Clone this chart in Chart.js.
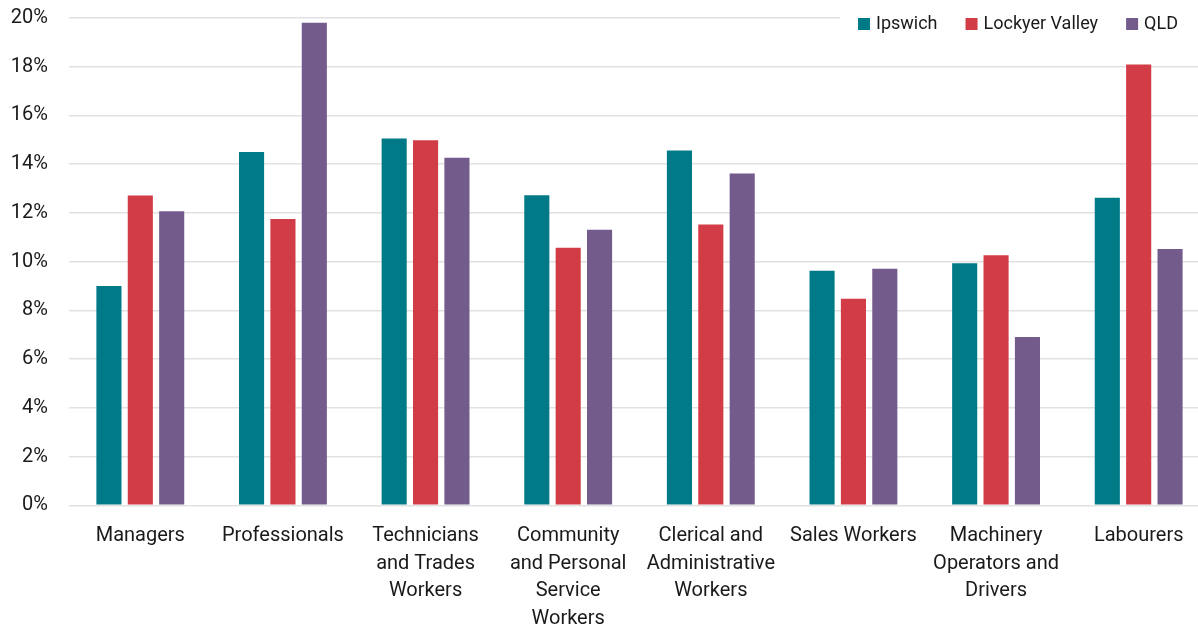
<!DOCTYPE html>
<html>
<head>
<meta charset="utf-8">
<script src="https://cdn.jsdelivr.net/npm/chart.js@4/dist/chart.umd.min.js"></script>
<style>
    html, body { margin: 0; padding: 0; background: #fff; overflow: hidden; }
    #wrap { width: 1210px; height: 642px; position: relative; margin-top: -15px; }
</style>
</head>
<body>
<div id="wrap"><canvas id="chart"></canvas></div>
<script>
const categories = [
    ["Managers"],
    ["Professionals"],
    ["Technicians", "and Trades", "Workers"],
    ["Community", "and Personal", "Service", "Workers"],
    ["Clerical and", "Administrative", "Workers"],
    ["Sales Workers"],
    ["Machinery", "Operators and", "Drivers"],
    ["Labourers"]
];
const seriesNames = ["Ipswich", "Lockyer Valley", "QLD"];
const ipswich = [9.0, 14.5, 15.05, 12.73, 14.56, 9.63, 9.93, 12.62];
const lockyer = [12.72, 11.75, 14.98, 10.57, 11.52, 8.48, 10.26, 18.09];
const qld = [12.07, 19.8, 14.26, 11.31, 13.62, 9.71, 6.91, 10.52];
const yTicks = [0, 2, 4, 6, 8, 10, 12, 14, 16, 18, 20];

const COLORS = ['#007a87', '#d13c47', '#735b8c'];
const FONT = 'Roboto, "DejaVu Sans", sans-serif';
const TEXT = '#1a1a1a';

// legend drawn over the top gridline with a white backing, like the original
const topLegend = {
    id: 'topLegend',
    afterDraw(chart) {
        const ctx = chart.ctx;
        const top = chart.chartArea.top;
        ctx.save();
        ctx.fillStyle = '#fff';
        ctx.fillRect(840, top - 14, 370, 30);
        ctx.font = '18px ' + FONT;
        ctx.textBaseline = 'middle';
        let x = 858;
        const y = top + 6;
        chart.data.datasets.forEach((ds, i) => {
            ctx.fillStyle = ds.backgroundColor;
            ctx.fillRect(x, y - 6, 12, 12);
            ctx.fillStyle = TEXT;
            ctx.fillText(ds.label, x + 18, y);
            x += 18 + ctx.measureText(ds.label).width + 28;
        });
        ctx.restore();
    }
};

const values = [ipswich, lockyer, qld];

new Chart(document.getElementById('chart'), {
    type: 'bar',
    data: {
        labels: categories,
        datasets: seriesNames.map((name, i) => ({
            label: name,
            data: values[i],
            backgroundColor: COLORS[i],
            categoryPercentage: 0.66,
            barPercentage: 0.8
        }))
    },
    options: {
        responsive: true,
        maintainAspectRatio: false,
        animation: false,
        layout: { padding: 0 },
        plugins: {
            legend: { display: false },
            tooltip: { enabled: false }
        },
        scales: {
            x: {
                grid: { display: false, drawTicks: false },
                border: { display: false },
                ticks: {
                    color: TEXT,
                    font: { family: FONT, size: 20, lineHeight: 1.375 },
                    padding: 17,
                    maxRotation: 0,
                    autoSkip: false
                },
                afterFit: s => { s.height = 121.7; }
            },
            y: {
                min: 0,
                max: 20,
                afterBuildTicks: s => { s.ticks = yTicks.map(v => ({ value: v })); },
                grid: { color: '#e1e1e1', lineWidth: 1.6, drawTicks: false },
                border: { display: false },
                ticks: {
                    color: TEXT,
                    font: { family: FONT, size: 20 },
                    padding: 21,
                    callback: v => v + '%'
                },
                afterFit: s => { s.width = 69; }
            }
        }
    },
    plugins: [topLegend]
});
</script>
</body>
</html>
